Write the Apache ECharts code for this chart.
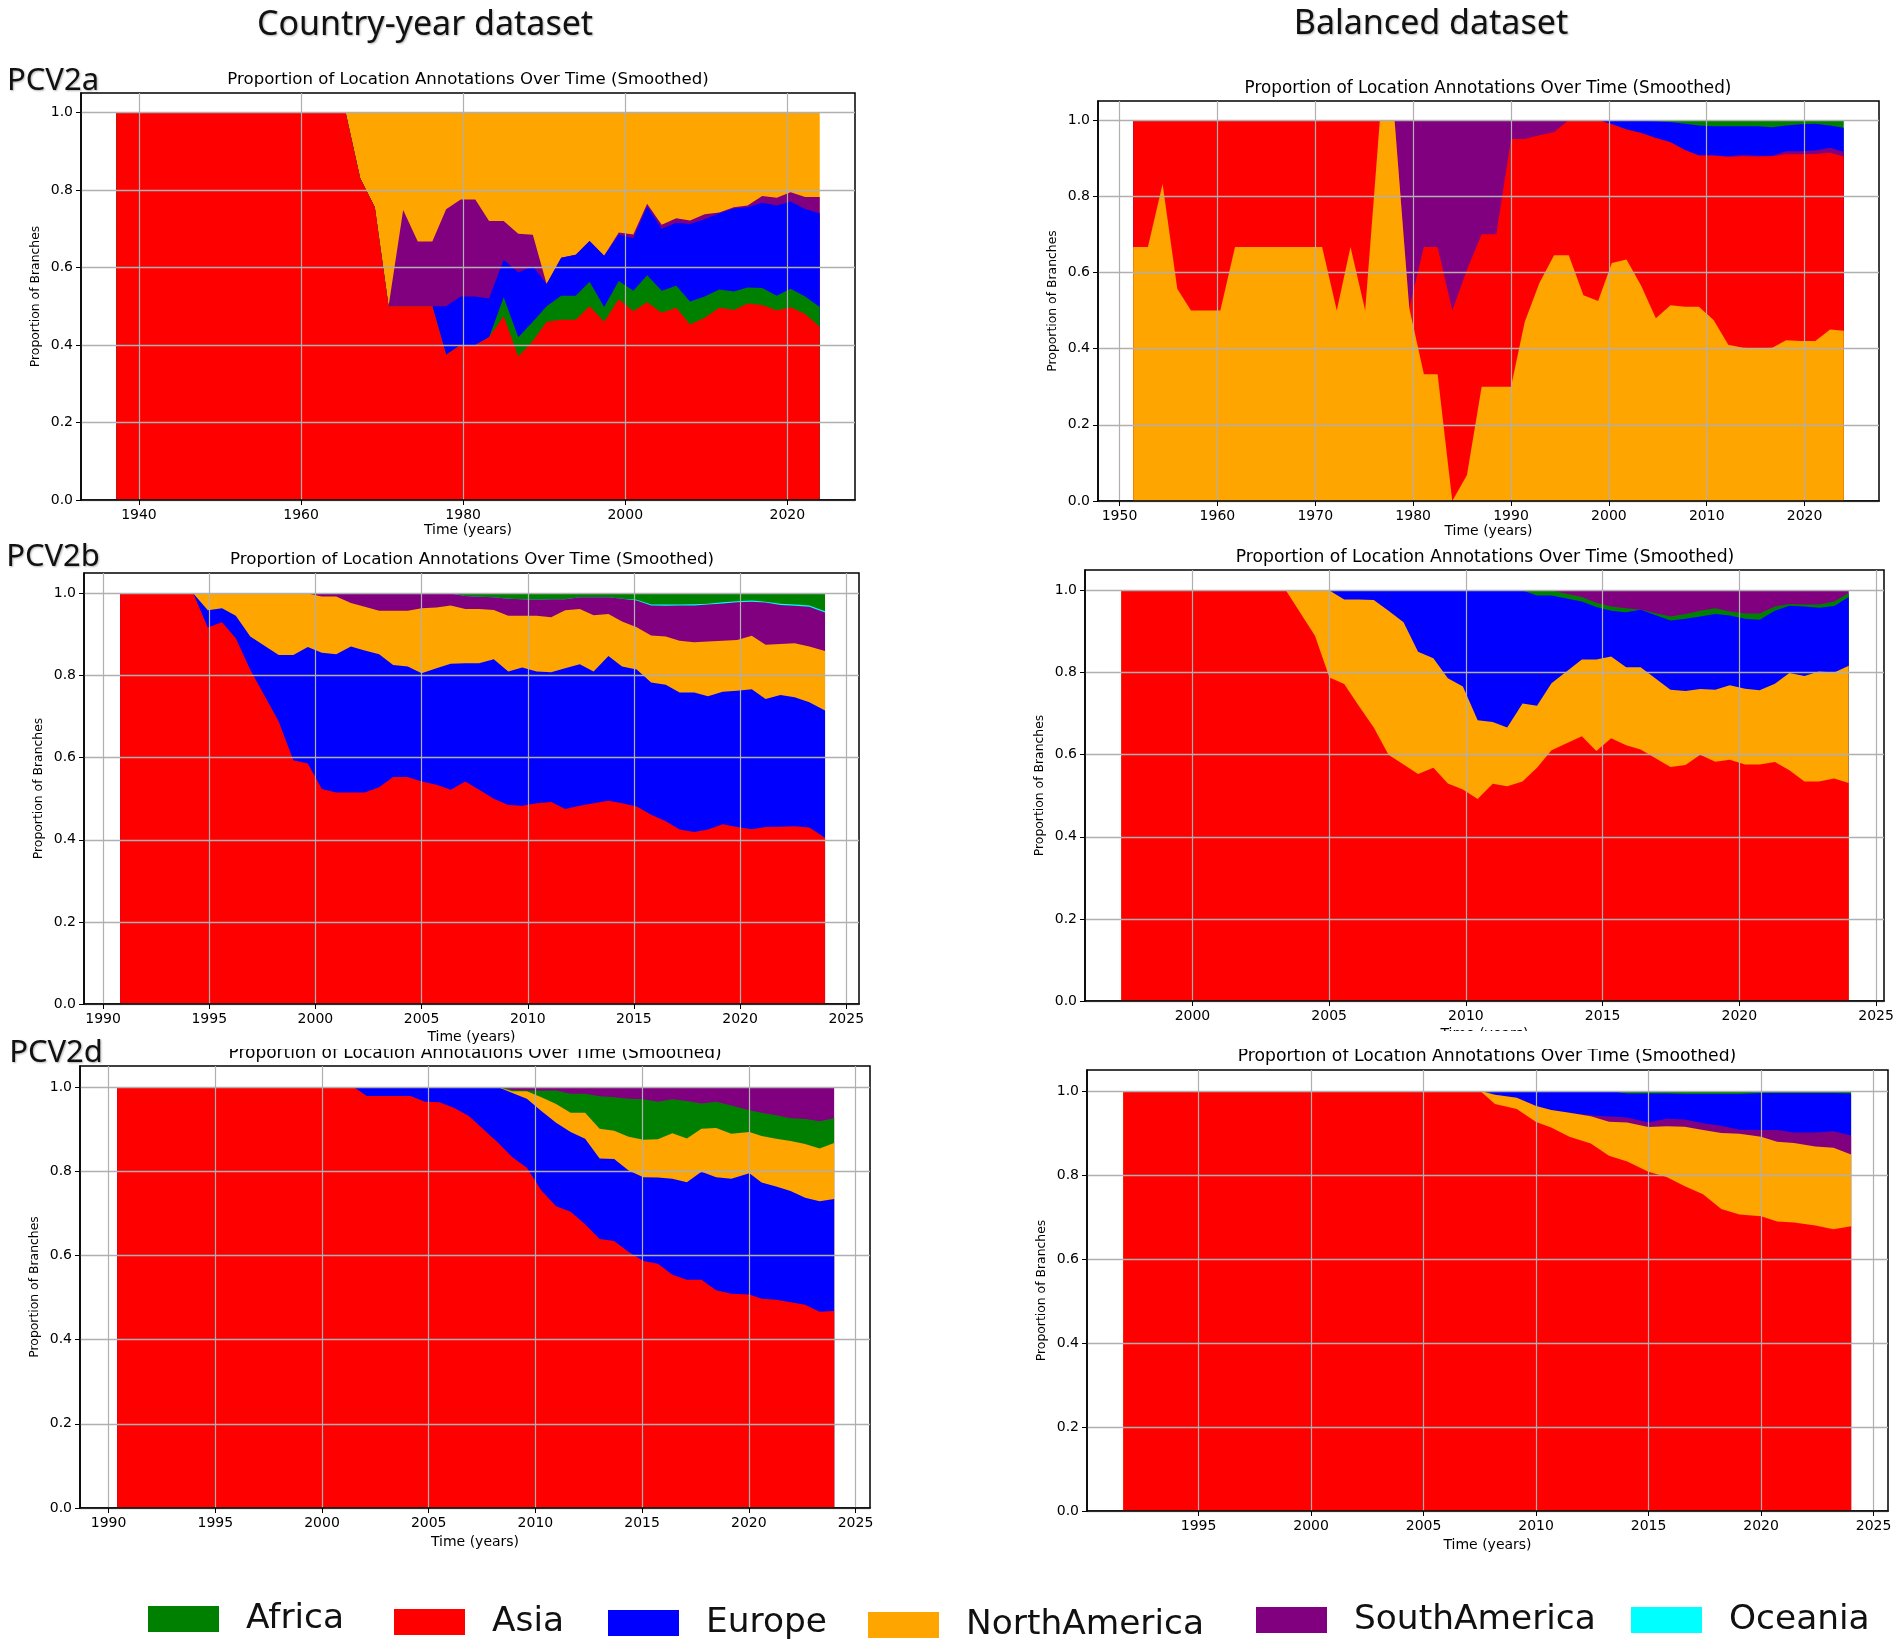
<!DOCTYPE html>
<html>
<head>
<meta charset="utf-8">
<title>Proportion of Location Annotations Over Time</title>
<script src="https://cdn.jsdelivr.net/npm/echarts@6/dist/echarts.min.js"></script>
<style>
  html, body { margin: 0; padding: 0; background: #fff; }
  #chart { width: 1902px; height: 1650px; }
</style>
</head>
<body>
<div id="chart"></div>
<script>
// Values below are the upper edge of each band (bottom band first).
const continents = ["Africa", "Asia", "Europe", "NorthAmerica", "SouthAmerica", "Oceania"];
const continentColors = ["#008000", "#ff0000", "#0000ff", "#ffa500", "#800080", "#00ffff"];
const yTicks = [0, 0.2, 0.4, 0.6, 0.8, 1.0];
const xTicksA = [1940, 1960, 1980, 2000, 2020];
const xTicksB = [1950, 1960, 1970, 1980, 1990, 2000, 2010, 2020];
const xTicksC = [1990, 1995, 2000, 2005, 2010, 2015, 2020, 2025];
const xTicksD = [2000, 2005, 2010, 2015, 2020, 2025];
const xTicksE = [1990, 1995, 2000, 2005, 2010, 2015, 2020, 2025];
const xTicksF = [1995, 2000, 2005, 2010, 2015, 2020, 2025];

// PCV2a, country-year
const aYears = [1937.2,1965.5,1967.3,1969.1,1970.8,1972.6,1974.4,1976.2,1977.9,1979.7,1981.5,1983.2,1985.0,1986.8,1988.6,1990.3,1992.1,1993.9,1995.6,1997.4,1999.2,2001,2002.7,2004.5,2006.3,2008,2009.8,2011.6,2013.4,2015.1,2016.9,2018.7,2020.4,2022.2,2024];
const aAsia = [1,1,.83,.755,.5,.5,.5,.5,.375,.4,.4,.42,.474,.37,.41,.46,.465,.465,.5,.46,.518,.487,.51,.483,.496,.453,.47,.496,.49,.507,.503,.489,.497,.48,.447];
const aAfrica = [1,1,.83,.755,.5,.5,.5,.5,.375,.4,.4,.42,.523,.42,.46,.5,.527,.527,.563,.498,.565,.54,.58,.54,.553,.512,.525,.543,.538,.548,.547,.527,.545,.525,.498];
const aEurope = [1,1,.83,.755,.5,.5,.5,.5,.5,.525,.525,.52,.62,.587,.603,.557,.625,.633,.668,.63,.685,.675,.758,.7,.715,.712,.724,.74,.752,.755,.767,.76,.77,.751,.74];
const aSouthAmerica = [1,1,.83,.755,.5,.748,.667,.667,.75,.775,.775,.72,.72,.687,.684,.557,.625,.633,.668,.63,.69,.685,.764,.71,.727,.721,.737,.742,.755,.76,.784,.78,.794,.782,.782];
const aNorthAmerica = [1,1,1,1,1,1,1,1,1,1,1,1,1,1,1,1,1,1,1,1,1,1,1,1,1,1,1,1,1,1,1,1,1,1,1];

// PCV2a, balanced
const bYears = [1951.4,1952.9,1954.4,1955.9,1957.3,1958.8,1960.3,1961.8,1963.3,1964.8,1966.2,1967.7,1969.2,1970.7,1972.2,1973.6,1975.1,1976.6,1978.1,1979.6,1981.1,1982.5,1984.0,1985.5,1987.0,1988.5,1990.0,1991.4,1992.9,1994.4,1995.9,1997.4,1998.9,2000.3,2001.8,2003.3,2004.8,2006.3,2007.8,2009.2,2010.7,2012.2,2013.7,2015.2,2016.7,2018.1,2019.6,2021.1,2022.6,2024];
const bNorthAmerica = [.667,.667,.832,.557,.5,.5,.5,.667,.667,.667,.667,.667,.667,.667,.5,.667,.5,1,1,.507,.333,.333,0,.068,.3,.3,.3,.47,.572,.645,.645,.54,.525,.625,.634,.565,.48,.514,.51,.51,.475,.41,.402,.4,.402,.422,.42,.42,.45,.447];
const bAsia = [1,1,1,1,1,1,1,1,1,1,1,1,1,1,1,1,1,1,1,.507,.667,.667,.5,.607,.7,.7,.95,.95,.96,.968,1,1,1,.989,.975,.966,.953,.942,.921,.907,.907,.903,.905,.904,.905,.91,.91,.911,.914,.904];
const bSouthAmerica = [1,1,1,1,1,1,1,1,1,1,1,1,1,1,1,1,1,1,1,1,1,1,1,1,1,1,1,1,1,1,1,1,1,.989,.975,.966,.953,.942,.921,.907,.907,.905,.908,.906,.906,.918,.918,.92,.927,.916];
const bEurope = [1,1,1,1,1,1,1,1,1,1,1,1,1,1,1,1,1,1,1,1,1,1,1,1,1,1,1,1,1,1,1,1,1,1,.999,.998,.997,.995,.99,.986,.984,.984,.984,.984,.981,.986,.989,.99,.986,.98];
const bAfrica = [1,1,1,1,1,1,1,1,1,1,1,1,1,1,1,1,1,1,1,1,1,1,1,1,1,1,1,1,1,1,1,1,1,1,1,1,1,1,1,1,1,1,1,1,1,1,1,1,1,1];

// PCV2b, country-year
const cYears = [1990.8,1994.25,1994.93,1995.6,1996.25,1996.93,1998.27,1998.96,1999.64,2000.3,2000.98,2001.67,2002.32,2003.0,2003.66,2004.35,2005.0,2005.7,2006.37,2007.06,2007.71,2008.4,2009.08,2009.74,2010.42,2011.1,2011.76,2012.45,2013.1,2013.8,2014.44,2015.13,2015.81,2016.5,2017.15,2017.84,2018.49,2019.18,2019.86,2020.55,2021.2,2021.9,2022.57,2023.26,2024];
const cAsia = [1,1,.917,.93,.891,.814,.688,.594,.586,.524,.515,.515,.515,.528,.553,.553,.542,.534,.522,.542,.522,.5,.485,.483,.489,.492,.475,.483,.489,.495,.489,.481,.461,.445,.425,.419,.425,.438,.431,.426,.431,.432,.433,.43,.405];
const cEurope = [1,1,.959,.964,.946,.895,.85,.85,.87,.856,.852,.871,.861,.852,.826,.822,.806,.818,.829,.83,.83,.84,.81,.82,.81,.808,.818,.828,.81,.848,.822,.815,.783,.778,.759,.759,.75,.761,.763,.767,.743,.753,.747,.735,.715];
const cNorthAmerica = [1,1,1,1,1,1,1,1,1,.993,.993,.977,.968,.958,.958,.958,.964,.966,.971,.962,.962,.96,.946,.946,.946,.942,.959,.962,.947,.95,.932,.918,.898,.895,.885,.881,.883,.885,.887,.897,.875,.877,.879,.871,.86];
const cSouthAmerica = [1,1,1,1,1,1,1,1,1,1,1,1,1,1,1,1,1,1,1,.994,.992,.991,.987,.986,.985,.986,.986,.991,.991,.991,.987,.983,.971,.97,.971,.971,.973,.976,.979,.98,.978,.972,.97,.968,.954];
const cOceania = [1,1,1,1,1,1,1,1,1,1,1,1,1,1,1,1,1,1,1,.994,.992,.991,.987,.986,.985,.986,.986,.991,.991,.991,.987,.985,.973,.973,.973,.974,.975,.979,.981,.983,.98,.975,.973,.971,.957];
const cAfrica = [1,1,1,1,1,1,1,1,1,1,1,1,1,1,1,1,1,1,1,1,1,1,1,1,1,1,1,1,1,1,1,1,1,1,1,1,1,1,1,1,1,1,1,1,1];

// PCV2b, balanced
const dYears = [1997.4,2003.42,2004.48,2005.01,2005.55,2006.08,2006.63,2007.17,2007.72,2008.25,2008.81,2009.34,2009.89,2010.43,2010.98,2011.51,2012.07,2012.6,2013.13,2014.24,2014.77,2015.31,2015.86,2016.39,2017.48,2018.03,2018.57,2019.12,2019.65,2020.21,2020.74,2021.3,2021.83,2022.38,2022.91,2023.47,2024];
const dAsia = [1,1,.89,.788,.772,.719,.666,.6,.576,.553,.568,.53,.515,.492,.529,.523,.535,.568,.611,.645,.609,.64,.623,.613,.57,.575,.6,.583,.588,.576,.576,.582,.562,.535,.535,.542,.531];
const dNorthAmerica = [1,1,1,1,.978,.978,.977,.951,.923,.851,.835,.786,.766,.684,.68,.666,.725,.719,.774,.832,.832,.839,.813,.813,.758,.755,.76,.758,.769,.761,.757,.773,.799,.792,.803,.8,.817];
const dEurope = [1,1,1,1,1,1,1,1,1,1,1,1,1,1,1,1,1,.988,.988,.973,.96,.951,.947,.953,.927,.931,.937,.943,.939,.931,.929,.951,.963,.961,.958,.962,.984];
const dAfrica = [1,1,1,1,1,1,1,1,1,1,1,1,1,1,1,1,1,1,1,.984,.97,.961,.957,.953,.937,.943,.951,.957,.949,.944,.944,.961,.967,.966,.966,.973,.994];
const dSouthAmerica = [1,1,1,1,1,1,1,1,1,1,1,1,1,1,1,1,1,1,1,1,1,1,1,1,1,1,1,1,1,1,1,1,1,1,1,1,1];

// PCV2d, country-year
const eYears = [1990.4,2001.48,2002.1,2004.15,2004.83,2005.5,2006.2,2006.88,2007.56,2008.24,2008.92,2009.6,2010.28,2010.97,2011.65,2012.33,2013.01,2013.69,2014.37,2015.06,2015.74,2016.42,2017.1,2017.78,2018.47,2019.18,2020.03,2020.6,2021.28,2021.96,2022.64,2023.32,2024];
const eAsia = [1,1,.979,.979,.965,.964,.95,.931,.9,.868,.833,.808,.754,.717,.704,.674,.639,.634,.608,.587,.58,.554,.542,.542,.517,.509,.507,.497,.495,.489,.483,.466,.468];
const eEurope = [1,1,1,1,1,1,1,1,1,1,.986,.972,.943,.915,.893,.877,.83,.829,.802,.786,.785,.782,.774,.799,.786,.782,.795,.773,.764,.753,.737,.729,.734];
const eNorthAmerica = [1,1,1,1,1,1,1,1,1,1,.99,.99,.976,.96,.939,.939,.901,.896,.882,.875,.876,.89,.878,.901,.903,.889,.893,.884,.877,.872,.865,.854,.867];
const eAfrica = [1,1,1,1,1,1,1,1,1,1,.993,.992,.991,.992,.984,.984,.978,.976,.972,.971,.965,.971,.967,.961,.965,.956,.945,.939,.933,.926,.924,.919,.926];
const eSouthAmerica = [1,1,1,1,1,1,1,1,1,1,1,1,1,1,1,1,1,1,1,1,1,1,1,1,1,1,1,1,1,1,1,1,1];

// PCV2d, balanced
const fYears = [1991.65,2007.52,2008.17,2009.14,2010,2010.67,2011.48,2012.43,2013.24,2014.05,2014.99,2015.8,2016.61,2017.42,2018.23,2019.04,2020,2020.71,2021.46,2022.41,2023.22,2024];
const fAsia = [1,1,.969,.957,.926,.913,.891,.875,.846,.832,.808,.795,.773,.754,.719,.706,.702,.689,.687,.68,.671,.678];
const fNorthAmerica = [1,1,.991,.984,.964,.955,.948,.94,.927,.925,.914,.916,.915,.907,.9,.898,.891,.879,.876,.868,.865,.849];
const fSouthAmerica = [1,1,.991,.984,.964,.955,.948,.942,.939,.937,.925,.934,.932,.923,.917,.908,.907,.907,.901,.901,.904,.894];
const fEurope = [1,1,1,1,.999,.999,.999,1,1,.994,.994,.994,.993,.993,.993,.993,.995,.995,.995,.995,.995,.994];
const fAfrica = [1,1,1,1,1,1,1,1,1,1,1,1,1,1,1,1,1,1,1,1,1,1];

const panels = [
    { box: [81, 93, 774, 407], xMin: 1932.85, xMax: 2028.35, ticks: xTicksA, titleAt: [468, 80], titleSize: 16.6, nameGap: 23.5, years: aYears,
      bands: [["Asia", aAsia], ["Africa", aAfrica], ["Europe", aEurope], ["SouthAmerica", aSouthAmerica], ["NorthAmerica", aNorthAmerica]] },
    { box: [1098, 101, 781, 400], xMin: 1947.8, xMax: 2027.6, ticks: xTicksB, titleAt: [1488, 89], titleSize: 16.8, nameGap: 23, years: bYears,
      bands: [["NorthAmerica", bNorthAmerica], ["Asia", bAsia], ["SouthAmerica", bSouthAmerica], ["Europe", bEurope], ["Africa", bAfrica]] },
    { box: [84, 573, 775, 431], xMin: 1989.1, xMax: 2025.6, ticks: xTicksC, titleAt: [472, 560], titleSize: 16.7, nameGap: 26, years: cYears,
      bands: [["Asia", cAsia], ["Europe", cEurope], ["NorthAmerica", cNorthAmerica], ["SouthAmerica", cSouthAmerica], ["Oceania", cOceania], ["Africa", cAfrica]] },
    { box: [1085, 570, 799, 431], xMin: 1996.07, xMax: 2025.29, ticks: xTicksD, titleAt: [1485, 558], titleSize: 17.2, nameGap: 26, years: dYears,
      bands: [["Asia", dAsia], ["NorthAmerica", dNorthAmerica], ["Europe", dEurope], ["Africa", dAfrica], ["SouthAmerica", dSouthAmerica]] },
    { box: [80, 1066, 790, 442], xMin: 1988.66, xMax: 2025.68, ticks: xTicksE, titleAt: [475, 1054], titleSize: 17, nameGap: 27.5, years: eYears,
      bands: [["Asia", eAsia], ["Europe", eEurope], ["NorthAmerica", eNorthAmerica], ["Africa", eAfrica], ["SouthAmerica", eSouthAmerica]] },
    { box: [1087, 1070, 801, 441], xMin: 1990.04, xMax: 2025.64, ticks: xTicksF, titleAt: [1487, 1057], titleSize: 17.2, nameGap: 27.5, years: fYears,
      bands: [["Asia", fAsia], ["NorthAmerica", fNorthAmerica], ["SouthAmerica", fSouthAmerica], ["Europe", fEurope], ["Africa", fAfrica]] }
];

const plotFont = "DejaVu Sans";
const headFont = "Noto Sans";
const gridGrey = "#b0b0b0";

function headText(text, x, y, size) {
    return {
        text: text, left: x, top: y, padding: 0, textAlign: "center", textVerticalAlign: "middle",
        textStyle: { fontFamily: headFont, fontSize: size, fontWeight: "normal", color: "#111",
            textShadowColor: "rgba(0,0,0,0.3)", textShadowBlur: 2, textShadowOffsetX: 1, textShadowOffsetY: 1 }
    };
}

function buildOption() {
    const grids = [], xAxes = [], yAxes = [], series = [];
    const titles = [
        headText("Country-year dataset", 425, 25, 34),
        headText("Balanced dataset", 1431, 24, 34),
        headText("PCV2a", 53, 81, 31),
        headText("PCV2b", 53, 557, 31),
        headText("PCV2d", 56, 1053, 31)
    ];

    panels.forEach((panel, idx) => {
        grids.push({ left: panel.box[0], top: panel.box[1], width: panel.box[2], height: panel.box[3],
            show: true, backgroundColor: "transparent", borderColor: "#000", borderWidth: 1.5 });
        titles.push({
            text: "Proportion of Location Annotations Over Time (Smoothed)",
            left: panel.titleAt[0], top: panel.titleAt[1], padding: 0, textAlign: "center", textVerticalAlign: "middle",
            textStyle: { fontFamily: plotFont, fontSize: panel.titleSize, fontWeight: "normal", color: "#000" }
        });
        xAxes.push({
            type: "value", gridIndex: idx, min: panel.xMin, max: panel.xMax, z: 5,
            name: "Time (years)", nameLocation: "middle", nameGap: panel.nameGap,
            nameTextStyle: { fontFamily: plotFont, fontSize: 14, color: "#000" },
            axisLine: { show: true, lineStyle: { color: "#000", width: 1.5 } },
            axisTick: { show: true, length: 5, customValues: panel.ticks, lineStyle: { color: "#000", width: 1 } },
            axisLabel: { show: true, customValues: panel.ticks, margin: 8, formatter: v => String(v),
                fontFamily: plotFont, fontSize: 14, color: "#000" },
            splitLine: { show: true, lineStyle: { color: gridGrey, width: 1.2 } }
        });
        yAxes.push({
            type: "value", gridIndex: idx, min: 0, max: 1.05, z: 5,
            name: "Proportion of Branches", nameLocation: "middle", nameGap: 39,
            nameTextStyle: { fontFamily: plotFont, fontSize: 12.4, color: "#000" },
            axisLine: { show: true, lineStyle: { color: "#000", width: 1.5 } },
            axisTick: { show: true, length: 5, customValues: yTicks, lineStyle: { color: "#000", width: 1 } },
            axisLabel: { show: true, customValues: yTicks, margin: 8, formatter: v => v.toFixed(1),
                fontFamily: plotFont, fontSize: 14, color: "#000" },
            splitLine: { show: true, lineStyle: { color: gridGrey, width: 1.4 } }
        });

        // stack doesn't work on a value x axis (it stacks the years), so each band
        // is filled down to zero from its upper edge, top band painted first
        panel.bands.slice().reverse().forEach(([name, tops]) => {
            const color = continentColors[continents.indexOf(name)];
            series.push({
                name: name, type: "line", xAxisIndex: idx, yAxisIndex: idx,
                data: panel.years.map((year, i) => [year, tops[i]]),
                showSymbol: false, silent: true, animation: false,
                color: color, itemStyle: { color: color },
                lineStyle: { width: 0 }, areaStyle: { color: color, opacity: 1 }
            });
        });
    });

    const legendSpots = [[148, 1619], [394, 1622], [608, 1623], [868, 1625], [1256, 1620], [1631, 1620]];
    const legends = continents.map((name, i) => ({
        data: [{ name: name, icon: "rect", itemStyle: { color: continentColors[i], borderWidth: 0 } }],
        left: legendSpots[i][0], top: legendSpots[i][1] - 20, padding: 0,
        selectedMode: false, itemWidth: 71, itemHeight: 26,
        textStyle: { fontFamily: plotFont, fontSize: 34.4, color: "#111", padding: [0, 0, 0, 22], lineHeight: 40 }
    }));

    return {
        backgroundColor: "#fff",
        animation: false,
        title: titles,
        legend: legends,
        grid: grids,
        xAxis: xAxes,
        yAxis: yAxes,
        series: series,
        // the source figure's panels overlap: one x label and one title are cut off
        graphic: [
            { type: "rect", z: 100, shape: { x: 1150, y: 1031, width: 700, height: 18 }, style: { fill: "#fff" } },
            { type: "rect", z: 100, shape: { x: 200, y: 1044, width: 620, height: 5 }, style: { fill: "#fff" } }
        ]
    };
}

const myChart = echarts.init(document.getElementById("chart"), null, { renderer: "canvas" });
myChart.setOption(buildOption());
window.addEventListener("resize", myChart.resize);
</script>
</body>
</html>
